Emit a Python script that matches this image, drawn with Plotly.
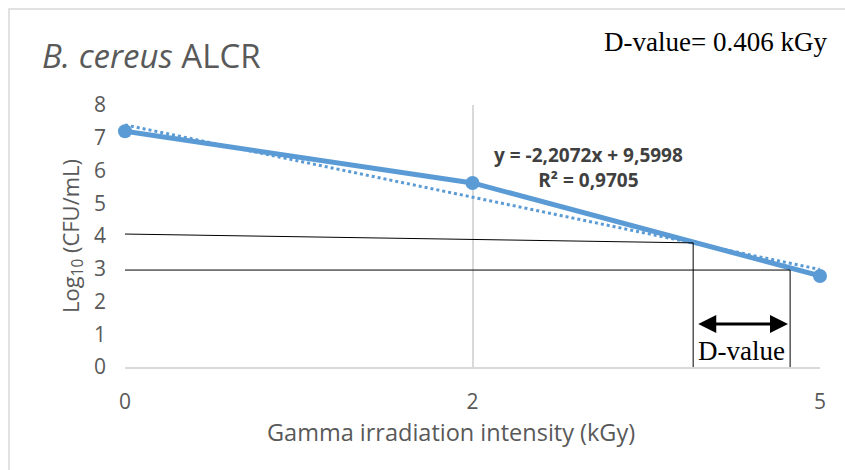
import plotly.graph_objects as go

# ---- data ----
dose_labels = ["0", "2", "5"]           # Gamma irradiation intensity (kGy), category axis
dose_pos = [0, 1, 2]                    # category positions
log_cfu = [7.2, 5.62, 2.78]             # Log10 (CFU/mL)
y_ticks = [0, 1, 2, 3, 4, 5, 6, 7, 8]

# linear trendline shown in chart (Excel category index 1..3)
slope = -2.2072
intercept = 9.5998
r2 = 0.9705
trend_idx = [1, 3]

# D-value construction lines (data units)
d_x = [1.635, 1.914]           # vertical lines
d_y_left = [4.06, 2.96]        # horizontal line start at x=0
d_y_right = [3.79, 2.96]       # horizontal line end
arrow_y = 1.31
d_value = 0.406

blue = "#5B9BD5"
gray_text = "#595959"
grid = "#D9D9D9"

fig = go.Figure()

# trendline (dotted)
trend_x = [i - 1 for i in trend_idx]
trend_y = [slope * i + intercept for i in trend_idx]
fig.add_trace(go.Scatter(x=trend_x, y=trend_y, mode="lines",
                         line=dict(color=blue, width=3, dash="dot"),
                         showlegend=False, hoverinfo="skip"))

# data series
fig.add_trace(go.Scatter(x=dose_pos, y=log_cfu, mode="lines+markers",
                         line=dict(color=blue, width=5),
                         marker=dict(color=blue, size=14),
                         showlegend=False, cliponaxis=False))

shapes = []
# horizontal construction lines
for xe, yl, yr in zip(d_x, d_y_left, d_y_right):
    shapes.append(dict(type="line", xref="x", yref="y", x0=0, y0=yl, x1=xe, y1=yr,
                       line=dict(color="black", width=1)))
    shapes.append(dict(type="line", xref="x", yref="y", x0=xe, y0=yr, x1=xe, y1=0,
                       line=dict(color="black", width=1)))
# outer chart frame (top + left visible)
shapes.append(dict(type="rect", xref="paper", yref="paper",
                   x0=(9 - 125) / 695, x1=1.2, y0=-0.6, y1=(367 - 9) / 262,
                   line=dict(color=grid, width=1.5), layer="below"))

annotations = [
    dict(xref="paper", yref="paper", x=(40 - 125) / 695, y=(367 - 55) / 262,
         xanchor="left", yanchor="middle", showarrow=False,
         text="<i>B. cereus</i> ALCR",
         font=dict(family="Open Sans", size=33, color=gray_text)),
    dict(xref="paper", yref="paper", x=(829 - 125) / 695, y=(367 - 42) / 262,
         xanchor="right", yanchor="middle", showarrow=False,
         text=f"D-value= {d_value} kGy",
         font=dict(family="Liberation Serif", size=27, color="black")),
    dict(xref="x", yref="y", x=1.335, y=6.1, showarrow=False, align="center",
         text=f"<b>y = {slope:.4f}x + {intercept:.4f}".replace(".", ",")
              + f"<br>R² = {r2:.4f}".replace(".", ",") + "</b>",
         font=dict(family="Open Sans", size=19, color="#404040")),
    # double-headed arrow
    dict(xref="x", yref="y", axref="x", ayref="y",
         x=d_x[1] - 0.006, y=arrow_y, ax=d_x[0] + 0.006, ay=arrow_y,
         showarrow=True, arrowhead=2, startarrowhead=2, arrowside="end+start",
         arrowwidth=3, arrowsize=1.2, startarrowsize=1.2, arrowcolor="black", text=" "),
    dict(xref="x", yref="y", x=(d_x[0] + d_x[1]) / 2, y=0.5, showarrow=False,
         text="D-value", yanchor="middle",
         font=dict(family="Liberation Serif", size=27, color="black")),
    # x-axis title (offset left as in the reference)
    dict(xref="paper", yref="paper", x=(451 - 125) / 695, y=(367 - 432) / 262,
         xanchor="center", yanchor="middle", showarrow=False,
         text="Gamma irradiation intensity (kGy)",
         font=dict(family="Open Sans", size=23.5, color=gray_text)),
]

fig.update_layout(
    width=845, height=470,
    margin=dict(l=125, r=25, t=105, b=103),
    paper_bgcolor="white", plot_bgcolor="white",
    shapes=shapes, annotations=annotations,
    xaxis=dict(range=[0, 2], tickmode="array", tickvals=dose_pos, ticktext=dose_labels,
               showgrid=True, gridcolor=grid, gridwidth=1.5, zeroline=False,
               showline=True, linecolor=grid, linewidth=1.5, ticks="",
               ticklabelstandoff=15,
               tickfont=dict(family="Open Sans", size=21, color=gray_text)),
    yaxis=dict(range=[0, 8], tickvals=y_ticks, showgrid=False, zeroline=False,
               showline=False, ticks="", ticklabelstandoff=18,
               tickfont=dict(family="Open Sans", size=21, color=gray_text),
               title=dict(text="Log<sub>10</sub> (CFU/mL)", standoff=8,
                          font=dict(family="Open Sans", size=22, color=gray_text))),
)

fig.write_html("out.html")
